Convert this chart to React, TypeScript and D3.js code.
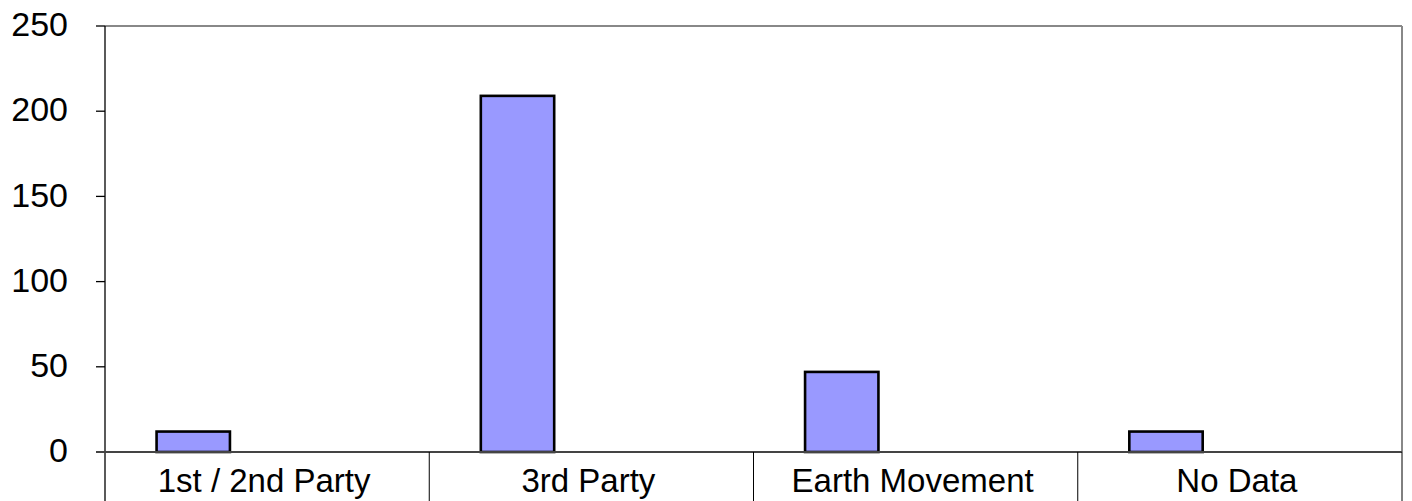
import React from "react";
import { scaleBand, scaleLinear } from "d3";

// chart data
const categories = ["1st / 2nd Party", "3rd Party", "Earth Movement", "No Data"];
const counts = [12, 209, 47, 12];
const yTicks = [0, 50, 100, 150, 200, 250];

const W = 1412;
const H = 501;
const margin = { left: 105, right: 10, top: 26, bottom: 49 };
const FONT = "'Liberation Sans', Arial, sans-serif";

export default function App() {
  const x = scaleBand<string>()
    .domain(categories)
    .range([margin.left, W - margin.right])
    .padding(0);
  const y = scaleLinear()
    .domain([0, 250])
    .range([H - margin.bottom, margin.top]);

  // excel style cluster: bar sits in the first of three slots
  const slot = scaleBand<number>()
    .domain([0, 1, 2])
    .range([0, x.bandwidth()])
    .paddingInner(0)
    .paddingOuter(0.68);

  const y0 = y(0);
  const top = y(250);
  const right = W - margin.right;

  return (
    <svg
      width={W}
      height={H}
      style={{ position: "absolute", left: 0, top: 0, background: "#fff" }}
      fontFamily={FONT}
    >
      {/* plot frame, top and right are grey */}
      <line x1={margin.left} x2={right} y1={top} y2={top} stroke="#888" strokeWidth={2} />
      <line x1={right} x2={right} y1={top} y2={y0} stroke="#888" strokeWidth={2} />

      {/* bars */}
      {categories.map((c, i) => (
        <rect
          key={c}
          x={(x(c) ?? 0) + (slot(0) ?? 0) + 1}
          y={y(counts[i])}
          width={slot.bandwidth() - 1}
          height={y0 - y(counts[i])}
          fill="#9999FF"
          stroke="#000"
          strokeWidth={2.6}
        />
      ))}

      {/* y axis */}
      <line x1={margin.left} x2={margin.left} y1={top} y2={H} stroke="#000" strokeWidth={1.3} />
      {yTicks.map((t) => (
        <g key={t}>
          <line x1={96} x2={margin.left} y1={y(t)} y2={y(t)} stroke="#000" strokeWidth={1.3} />
          <text
            x={68}
            y={y(t)}
            dy="0.3em"
            textAnchor="end"
            fontSize={34}
            fill="#000"
          >
            {t}
          </text>
        </g>
      ))}

      {/* category axis as boxes */}
      <line x1={96} x2={right} y1={y0} y2={y0} stroke="#444" strokeWidth={2} />
      {categories.map((c) => (
        <g key={c}>
          <line
            x1={(x(c) ?? 0) + x.bandwidth()}
            x2={(x(c) ?? 0) + x.bandwidth()}
            y1={y0}
            y2={H}
            stroke="#000"
            strokeWidth={1}
          />
          <text
            x={(x(c) ?? 0) + x.bandwidth() / 2 - 3}
            y={492}
            textAnchor="middle"
            fontSize={33}
            fill="#000"
          >
            {c}
          </text>
        </g>
      ))}
    </svg>
  );
}
